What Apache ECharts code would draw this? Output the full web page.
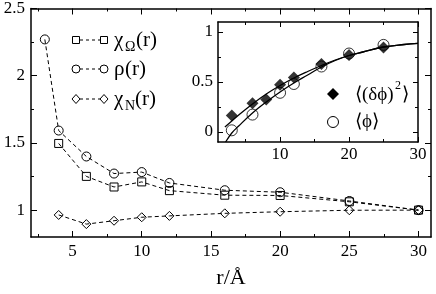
<!DOCTYPE html>
<html><head><meta charset="utf-8">
<script src="https://cdn.jsdelivr.net/npm/echarts@6/dist/echarts.min.js"></script>
<style>html,body{margin:0;padding:0;background:#fff}#c{width:436px;height:294px}</style>
</head><body><div id="c"></div>
<script>
// ---- main plot data ----
const rhoR = [3, 4, 6, 8, 10, 12, 16, 20, 25, 30];
const rhoV = [2.27, 1.592, 1.399, 1.272, 1.283, 1.202, 1.148, 1.133, 1.068, 1.0];
const chiOR = [4, 6, 8, 10, 12, 16, 20, 25, 30];
const chiOV = [1.496, 1.251, 1.172, 1.21, 1.145, 1.111, 1.109, 1.062, 1.0];
const chiNR = [4, 6, 8, 10, 12, 16, 20, 25, 30];
const chiNV = [0.964, 0.896, 0.921, 0.947, 0.957, 0.976, 0.988, 0.999, 1.0];
const mainXTicks = [5, 10, 15, 20, 25, 30];
const mainXMinor = [2.5, 7.5, 12.5, 17.5, 22.5, 27.5];
const mainYTicks = [1, 1.5, 2, 2.5];
const mainYMinor = [1.25, 1.75, 2.25];
// ---- inset data ----
const insR = [3, 6, 8, 10, 12, 16, 20, 25];
const dphiV = [0.166, 0.288, 0.325, 0.472, 0.546, 0.679, 0.769, 0.844];
const phiR = [3, 6, 10, 12, 16, 20, 25];
const phiV = [0.017, 0.174, 0.392, 0.48, 0.655, 0.785, 0.871];
const fitDR = [2, 3, 4, 6, 8, 10, 12, 14, 16, 18, 20, 22, 25, 28, 30];
const fitDV = [0.05, 0.11, 0.17, 0.28, 0.38, 0.465, 0.54, 0.605, 0.665, 0.72, 0.765, 0.80, 0.85, 0.875, 0.886];
const fitCR = [2.1, 3, 4, 6, 8, 10, 12, 14, 16, 18, 20, 22, 25, 28, 30];
const fitCV = [-0.1, -0.01, 0.06, 0.19, 0.30, 0.40, 0.49, 0.57, 0.65, 0.715, 0.765, 0.80, 0.85, 0.875, 0.886];
const insXTicks = [10, 20, 30];
const insXMinor = [5, 15, 25];
const insYTicks = [0, 0.5, 1];
const insYMinor = [0.25, 0.75];

const FONT = "'Liberation Serif', 'Times New Roman', serif";
const zip = (a, b) => a.map((v, i) => [v, b[i]]);

function axis(type, grid, pos, min, max, ticks, len, opts) {
  opts = opts || {};
  return Object.assign({
    type: 'value', gridIndex: grid, position: pos, min: min, max: max,
    axisLine: { show: !!opts.line, onZero: false, lineStyle: { color: '#000', width: 1.5 } },
    axisTick: { show: true, inside: true, length: len, customValues: ticks, lineStyle: { color: '#000', width: 1 } },
    axisLabel: opts.labels ? { show: true, customValues: ticks, color: '#000', fontFamily: FONT, fontSize: 17, margin: opts.margin } : { show: false },
    splitLine: { show: false }
  }, opts.extra || {});
}

const xAxis = [
  axis('x', 0, 'bottom', 2, 30.9, mainXTicks, 6, { line: true, labels: true, margin: 6,
    extra: { name: 'r/Å', nameLocation: 'middle', nameGap: 30, nameTextStyle: { color: '#000', fontFamily: FONT, fontSize: 22 } } }),
  axis('x', 0, 'bottom', 2, 30.9, mainXMinor, 3),
  axis('x', 0, 'top', 2, 30.9, mainXTicks, 6, { line: true }),
  axis('x', 0, 'top', 2, 30.9, mainXMinor, 3),
  axis('x', 1, 'bottom', 1, 30, insXTicks, 5, { line: true, labels: true, margin: 4 }),
  axis('x', 1, 'bottom', 1, 30, insXMinor, 3),
  axis('x', 1, 'top', 1, 30, insXTicks, 5, { line: true }),
  axis('x', 1, 'top', 1, 30, insXMinor, 3)
];
const yAxis = [
  axis('y', 0, 'left', 0.8, 2.5, mainYTicks, 6, { line: true, labels: true, margin: 6 }),
  axis('y', 0, 'left', 0.8, 2.5, mainYMinor, 3),
  axis('y', 0, 'right', 0.8, 2.5, mainYTicks, 6, { line: true }),
  axis('y', 0, 'right', 0.8, 2.5, mainYMinor, 3),
  axis('y', 1, 'left', -0.1, 1.1, insYTicks, 5, { line: true, labels: true, margin: 5 }),
  axis('y', 1, 'left', -0.1, 1.1, insYMinor, 3),
  axis('y', 1, 'right', -0.1, 1.1, insYTicks, 5, { line: true }),
  axis('y', 1, 'right', -0.1, 1.1, insYMinor, 3)
];

const open = { color: 'rgba(0,0,0,0)', borderColor: '#000', borderWidth: 1 };
const dash = { color: '#000', width: 1, type: [4, 3] };
function mainLine(name, data, symbol, size) {
  return { name: name, type: 'line', xAxisIndex: 0, yAxisIndex: 0, data: data, symbol: symbol, symbolSize: size,
    showAllSymbol: true, lineStyle: dash, itemStyle: open, emphasis: { disabled: true }, animation: false };
}

const series = [
  mainLine('chiO', zip(chiOR, chiOV), 'rect', 8),
  mainLine('rho', zip(rhoR, rhoV), 'circle', 9),
  mainLine('chiN', zip(chiNR, chiNV), 'diamond', 9),
  { type: 'line', xAxisIndex: 4, yAxisIndex: 4, data: zip(fitDR, fitDV), smooth: 0.4, showSymbol: false,
    lineStyle: { color: '#000', width: 1.3 }, animation: false, z: 3 },
  { type: 'line', xAxisIndex: 4, yAxisIndex: 4, data: zip(fitCR, fitCV), smooth: 0.4, showSymbol: false,
    lineStyle: { color: '#000', width: 1.3 }, animation: false, z: 3 },
  { type: 'scatter', xAxisIndex: 4, yAxisIndex: 4, data: zip(phiR, phiV), symbol: 'circle', symbolSize: 11,
    itemStyle: { color: 'rgba(0,0,0,0)', borderColor: '#000', borderWidth: 1 }, animation: false, z: 4 },
  { type: 'scatter', xAxisIndex: 4, yAxisIndex: 4, data: zip(insR, dphiV), symbol: 'diamond', symbolSize: 12,
    itemStyle: { color: '#000' }, animation: false, z: 5 }
];

// legend drawn as graphics
const g = [];
function legRow(y, kind, main, sub, tail) {
  g.push({ type: 'line', shape: { x1: 80, y1: y, x2: 100, y2: y }, style: { stroke: '#000', lineWidth: 1, lineDash: [3, 3] } });
  [76, 104].forEach(function (x) {
    if (kind === 'rect') g.push({ type: 'rect', shape: { x: x - 3.5, y: y - 3.5, width: 7, height: 7 }, style: { fill: 'none', stroke: '#000', lineWidth: 1 } });
    if (kind === 'circle') g.push({ type: 'circle', shape: { cx: x, cy: y, r: 4 }, style: { fill: 'none', stroke: '#000', lineWidth: 1 } });
    if (kind === 'diamond') g.push({ type: 'polygon', shape: { points: [[x, y - 4.5], [x + 4, y], [x, y + 4.5], [x - 4, y]] }, style: { fill: 'none', stroke: '#000', lineWidth: 1 } });
  });
  let x = 114;
  g.push({ type: 'text', x: x, y: y, style: { text: main, font: '21px ' + FONT, fill: '#000', verticalAlign: 'middle' } });
  if (sub) {
    g.push({ type: 'text', x: x + 11, y: y + 7, style: { text: sub, font: '14px ' + FONT, fill: '#000', verticalAlign: 'middle' } });
    x += 11 + (sub === 'Ω' ? 11 : 10);
  } else {
    x += 11;
  }
  g.push({ type: 'text', x: x, y: y, style: { text: tail, font: '21px ' + FONT, fill: '#000', verticalAlign: 'middle' } });
}
legRow(40, 'rect', 'χ', 'Ω', '(r)');
legRow(69, 'circle', 'ρ', null, '(r)');
legRow(99, 'diamond', 'χ', 'N', '(r)');

// inset legend
g.push({ type: 'polygon', shape: { points: [[333, 88], [339, 94], [333, 100], [327, 94]] }, style: { fill: '#000' } });
g.push({ type: 'circle', shape: { cx: 333, cy: 122, r: 5.5 }, style: { fill: 'none', stroke: '#000', lineWidth: 1 } });
g.push({ type: 'text', x: 355, y: 95, style: { text: '⟨(δϕ)', font: '19px ' + FONT, fill: '#000', verticalAlign: 'middle' } });
g.push({ type: 'text', x: 395, y: 86, style: { text: '2', font: '12px ' + FONT, fill: '#000', verticalAlign: 'middle' } });
g.push({ type: 'text', x: 402, y: 95, style: { text: '⟩', font: '19px ' + FONT, fill: '#000', verticalAlign: 'middle' } });
g.push({ type: 'text', x: 355, y: 122, style: { text: '⟨ϕ⟩', font: '19px ' + FONT, fill: '#000', verticalAlign: 'middle' } });

const chart = echarts.init(document.getElementById('c'), null, { renderer: 'canvas' });
chart.setOption({
  backgroundColor: '#fff',
  animation: false,
  grid: [
    { left: 31, top: 8, right: 5, bottom: 51 },
    { left: 218, top: 22, right: 18, bottom: 152, show: true, backgroundColor: '#fff', borderWidth: 0 }
  ],
  xAxis: xAxis,
  yAxis: yAxis,
  series: series,
  graphic: g
});
</script></body></html>
